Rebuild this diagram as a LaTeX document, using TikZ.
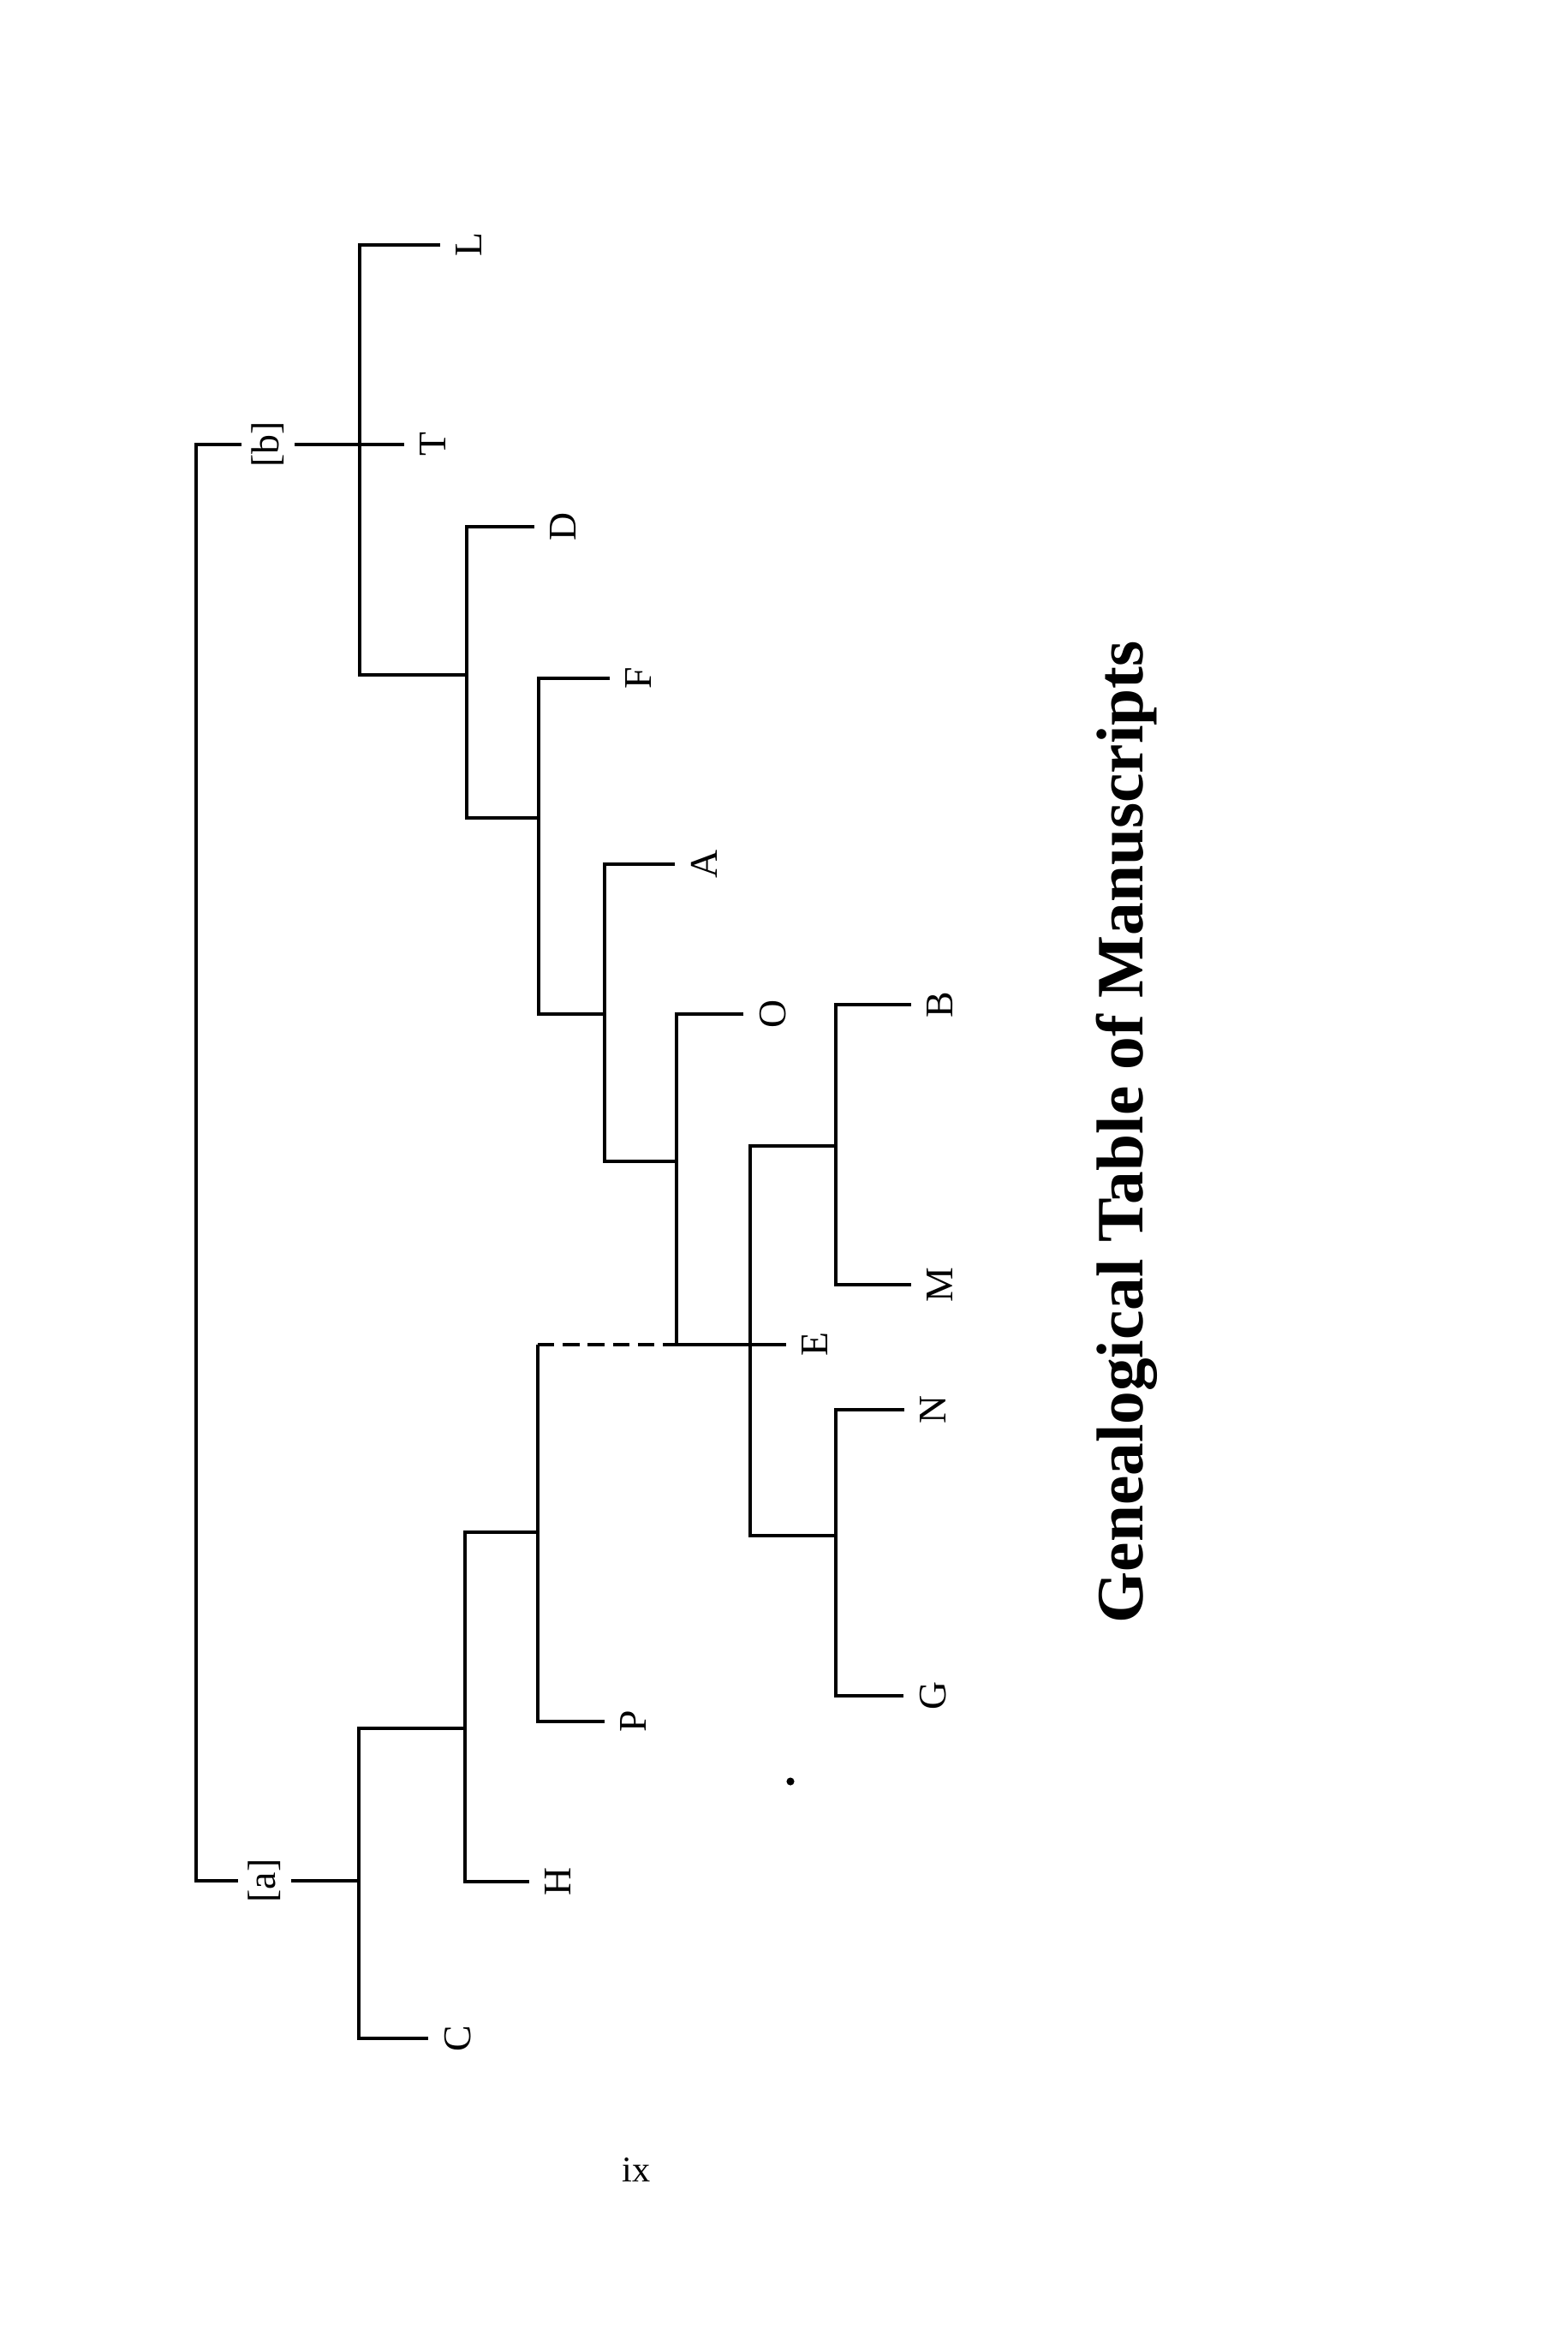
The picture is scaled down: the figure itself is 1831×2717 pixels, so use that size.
\documentclass[tikz,border=0pt]{standalone}
\usepackage{fontspec}
\setmainfont{Liberation Serif}

\begin{document}
\begin{tikzpicture}[x=0.01cm, y=-0.01cm, line width=0.9pt,
    ms/.style={rotate=90, inner sep=5pt, font=\fontsize{13}{13}\selectfont},
    lost/.style={rotate=90, inner sep=3pt, font=\fontsize{13}{13}\selectfont},
    gap/.style={dash pattern=on 5.5pt off 2.8pt}]
    \useasboundingbox (0,0) rectangle (1831,2717);
    % manuscripts
    \node[ms] (L) at (548,286) {L};
    \node[ms] (T) at (506,519) {T};
    \node[ms] (D) at (658,615) {D};
    \node[ms] (F) at (746,792) {F};
    \node[ms] (A) at (822,1009) {A};
    \node[ms] (O) at (903,1184) {O};
    \node[ms] (E) at (952,1570) {E};
    \node[ms] (B) at (1098,1173) {B};
    \node[ms] (M) at (1098,1500) {M};
    \node[ms] (N) at (1090,1646) {N};
    \node[ms] (G) at (1090,1980) {G};
    \node[ms] (P) at (740,2010) {P};
    \node[ms] (H) at (652,2197) {H};
    \node[ms] (C) at (535,2380) {C};
    \node[lost] (hb) at (313,519) {[b]};
    \node[lost] (ha) at (309,2196) {[a]};
    % junctions
    \coordinate (r1) at (229,519);
    \coordinate (r2) at (229,2196);
    \coordinate (v1t) at (420,286);
    \coordinate (v1b) at (420,788);
    \coordinate (v2t) at (545,615);
    \coordinate (v2m) at (545,788);
    \coordinate (v2b) at (545,955);
    \coordinate (v3t) at (629,792);
    \coordinate (v3m) at (629,955);
    \coordinate (v3b) at (629,1184);
    \coordinate (v4t) at (706,1009);
    \coordinate (v4m) at (706,1184);
    \coordinate (v4b) at (706,1356);
    \coordinate (v5t) at (790,1184);
    \coordinate (v5m) at (790,1356);
    \coordinate (v5b) at (790,1570);
    \coordinate (v6t) at (876,1338);
    \coordinate (v6b) at (876,1793);
    \coordinate (v7t) at (976,1173);
    \coordinate (v7m) at (976,1338);
    \coordinate (v7b) at (976,1500);
    \coordinate (v8t) at (976,1646);
    \coordinate (v8m) at (976,1793);
    \coordinate (v8b) at (976,1980);
    \coordinate (v9t) at (628,1570);
    \coordinate (v9m) at (628,1789);
    \coordinate (v9b) at (628,2010);
    \coordinate (v10t) at (543,1789);
    \coordinate (v10m) at (543,2018);
    \coordinate (v10b) at (543,2197);
    \coordinate (v11t) at (419,2018);
    \coordinate (v11m) at (419,2196);
    \coordinate (v11b) at (419,2380);
    % stemma
    \draw (hb) -- (r1) -- (r2) -- (ha);
    \draw (hb) -- (T);
    \draw (ha) -- (v11m);
    \draw (L) -- (v1t) -- (v1b) -- (v2m);
    \draw (D) -- (v2t) -- (v2b) -- (v3m);
    \draw (F) -- (v3t) -- (v3b) -- (v4m);
    \draw (A) -- (v4t) -- (v4b) -- (v5m);
    \draw (O) -- (v5t) -- (v5b) -- (E);
    \draw[gap] (v9t) -- (v5b);
    \draw (v7m) -- (v6t) -- (v6b) -- (v8m);
    \draw (B) -- (v7t) -- (v7b) -- (M);
    \draw (N) -- (v8t) -- (v8b) -- (G);
    \draw (v9t) -- (v9b) -- (P);
    \draw (v9m) -- (v10t) -- (v10b) -- (H);
    \draw (v10m) -- (v11t) -- (v11b) -- (C);
    \fill (923,2080) circle[radius=1.3pt];
    \node[rotate=90, anchor=base, font=\fontsize{22}{22}\selectfont\bfseries] (title) at (1334,1322) {Genealogical Table of Manuscripts};
    \node[anchor=base, font=\fontsize{12}{12}\selectfont] (page) at (743,2547) {ix};
\end{tikzpicture}
\end{document}
